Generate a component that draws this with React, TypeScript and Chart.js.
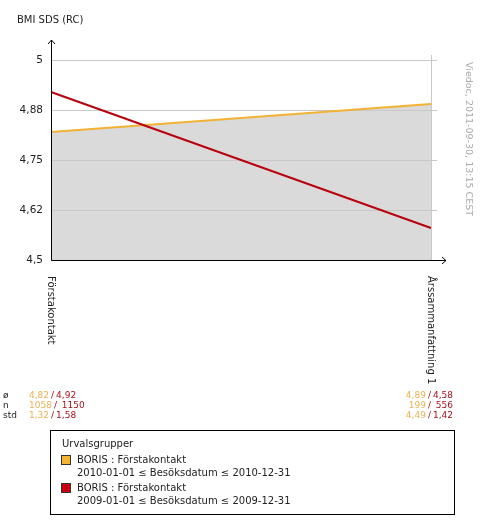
import React, { useEffect, useRef } from "react";
import { Chart, registerables } from "chart.js";

Chart.register(...registerables);

const categories = ["Förstakontakt", "Årssammanfattning 1"];
const series2010 = [4.82, 4.89];
const series2009 = [4.92, 4.58];
const yTicks = [4.5, 4.625, 4.75, 4.875, 5];
const yTickLabels = ["4,5", "4,62", "4,75", "4,88", "5"];
const statLabels = ["ø", "n", "std"];
const statsFirst2010 = ["4,82", "1058", "1,32"];
const statsFirst2009 = ["4,92", " 1150", "1,58"];
const statsLast2010 = ["4,89", "199", "4,49"];
const statsLast2009 = ["4,58", " 556", "1,42"];

const ORANGE = "#f2b233";
const RED = "#b8000e";
const STAT_ORANGE = "#eab250";
const STAT_RED = "#a8101c";
const FONT = "'DejaVu Sans', Verdana, sans-serif";

const decorPlugin = {
  id: "decor",
  afterDraw(chart: any) {
    const { ctx, chartArea } = chart;
    const { left, right, top, bottom } = chartArea;
    const yScale = chart.scales.y;
    const xScale = chart.scales.x;
    ctx.save();
    ctx.strokeStyle = "#c8c8c8";
    ctx.lineWidth = 1;
    yTicks.forEach((v) => {
      const y = Math.round(yScale.getPixelForValue(v)) + 0.5;
      ctx.beginPath();
      ctx.moveTo(right, y);
      ctx.lineTo(right + 6, y);
      ctx.stroke();
    });
    const rx = Math.round(xScale.getPixelForValue(1)) + 0.5;
    ctx.beginPath();
    ctx.moveTo(rx, top - 5);
    ctx.lineTo(rx, bottom);
    ctx.stroke();
    ctx.strokeStyle = "#000";
    const lx = Math.round(left) + 0.5;
    const by = Math.round(bottom) + 0.5;
    ctx.beginPath();
    ctx.moveTo(lx, by);
    ctx.lineTo(lx, top - 20);
    ctx.moveTo(lx - 3.5, top - 16);
    ctx.lineTo(lx, top - 20);
    ctx.lineTo(lx + 3.5, top - 16);
    ctx.stroke();
    ctx.beginPath();
    ctx.moveTo(lx, by);
    ctx.lineTo(right + 15, by);
    ctx.moveTo(right + 11, by - 3.5);
    ctx.lineTo(right + 15, by);
    ctx.lineTo(right + 11, by + 3.5);
    ctx.stroke();
    ctx.fillStyle = "#222";
    ctx.font = `10px ${FONT}`;
    ctx.textAlign = "left";
    ctx.textBaseline = "middle";
    ctx.fillText("BMI SDS (RC)", 17, 20);
    ctx.font = `10px ${FONT}`;
    ctx.fillStyle = "#222";
    categories.forEach((c, i) => {
      const x = xScale.getPixelForValue(i);
      ctx.save();
      ctx.translate(x, bottom + 16);
      ctx.rotate(Math.PI / 2);
      ctx.textAlign = "left";
      ctx.textBaseline = "middle";
      ctx.fillText(c, 0, 0);
      ctx.restore();
    });
    ctx.save();
    ctx.font = `9.5px ${FONT}`;
    ctx.fillStyle = "#aaaaaa";
    ctx.translate(468, 62);
    ctx.rotate(Math.PI / 2);
    ctx.textAlign = "left";
    ctx.textBaseline = "middle";
    ctx.fillText("Viedoc, 2011-09-30, 13:15 CEST", 0, 0);
    ctx.restore();
    ctx.restore();
  },
};

export default function App() {
  const ref = useRef<HTMLCanvasElement | null>(null);
  useEffect(() => {
    document.body.style.margin = "0";
    const chart = new Chart(ref.current as HTMLCanvasElement, {
      type: "line",
      data: {
        labels: categories,
        datasets: [
          {
            label: "BORIS : Förstakontakt 2009",
            data: series2009,
            borderColor: RED,
            borderWidth: 2,
            pointRadius: 0,
            fill: false,
            order: 0,
          },
          {
            label: "BORIS : Förstakontakt 2010",
            data: series2010,
            borderColor: ORANGE,
            borderWidth: 2,
            pointRadius: 0,
            fill: "start",
            backgroundColor: "#dadada",
            order: 1,
          },
        ],
      },
      plugins: [decorPlugin],
      options: {
        responsive: false,
        animation: false,
        layout: { padding: { left: 0, top: 60, right: 49, bottom: 0 } },
        plugins: {
          legend: { display: false },
          tooltip: { enabled: false },
          filler: { drawTime: "beforeDraw" },
        } as any,
        scales: {
          x: {
            type: "category",
            offset: false,
            grid: { display: false },
            border: { display: false },
            ticks: { display: false },
            afterFit: (s: any) => {
              s.height = 260;
            },
          },
          y: {
            type: "linear",
            min: 4.5,
            max: 5,
            grid: { color: "#c8c8c8", drawTicks: false },
            border: { display: false },
            afterBuildTicks: (s: any) => {
              s.ticks = yTicks.map((v) => ({ value: v }));
            },
            ticks: {
              padding: 8,
              color: "#222",
              font: { family: FONT, size: 10.5 },
              callback: (v: any) => {
                const i = yTicks.indexOf(Number(v));
                return i >= 0 ? yTickLabels[i] : "";
              },
            },
            afterFit: (s: any) => {
              s.width = 51;
            },
          },
        },
      },
    });
    return () => chart.destroy();
  }, []);

  const statStyle: React.CSSProperties = {
    position: "absolute",
    fontFamily: FONT,
    fontSize: 9,
    lineHeight: "10px",
  };

  const pair = (a: string, b: string, i: number) => (
    <div key={i} style={{ whiteSpace: "pre" }}>
      <span style={{ color: STAT_ORANGE }}>{a}</span>
      <span style={{ color: STAT_RED, margin: "0 2px" }}>/</span>
      <span style={{ color: STAT_RED }}>{b}</span>
    </div>
  );

  return (
    <div style={{ position: "relative", width: 480, height: 520, background: "#fff", fontFamily: FONT }}>
      <canvas ref={ref} width={480} height={520} style={{ position: "absolute", left: 0, top: 0 }} />
      <div style={{ ...statStyle, left: 3, top: 390, color: "#222" }}>
        {statLabels.map((l) => (
          <div key={l}>{l}</div>
        ))}
      </div>
      <div style={{ ...statStyle, left: 29, top: 390 }}>
        {statsFirst2010.map((v, i) => pair(v, statsFirst2009[i], i))}
      </div>
      <div style={{ ...statStyle, right: 27, top: 390, textAlign: "right" }}>
        {statsLast2010.map((v, i) => pair(v, statsLast2009[i], i))}
      </div>
      <div
        style={{
          position: "absolute",
          left: 50,
          top: 430,
          width: 405,
          height: 85,
          border: "1px solid #000",
          boxSizing: "border-box",
          fontSize: 10,
          color: "#222",
        }}
      >
        <div style={{ position: "absolute", left: 11, top: 7 }}>Urvalsgrupper</div>
        {[
          { c: ORANGE, l1: "BORIS : Förstakontakt", l2: "2010-01-01 ≤ Besöksdatum ≤ 2010-12-31", t: 22 },
          { c: "#c8000f", l1: "BORIS : Förstakontakt", l2: "2009-01-01 ≤ Besöksdatum ≤ 2009-12-31", t: 50 },
        ].map((e, i) => (
          <div key={i}>
            <div
              style={{
                position: "absolute",
                left: 10,
                top: e.t + 2,
                width: 10,
                height: 10,
                background: e.c,
                border: "1px solid #333",
                boxSizing: "border-box",
              }}
            />
            <div style={{ position: "absolute", left: 26, top: e.t, lineHeight: "13px" }}>{e.l1}</div>
            <div style={{ position: "absolute", left: 26, top: e.t + 13, lineHeight: "13px" }}>{e.l2}</div>
          </div>
        ))}
      </div>
    </div>
  );
}
